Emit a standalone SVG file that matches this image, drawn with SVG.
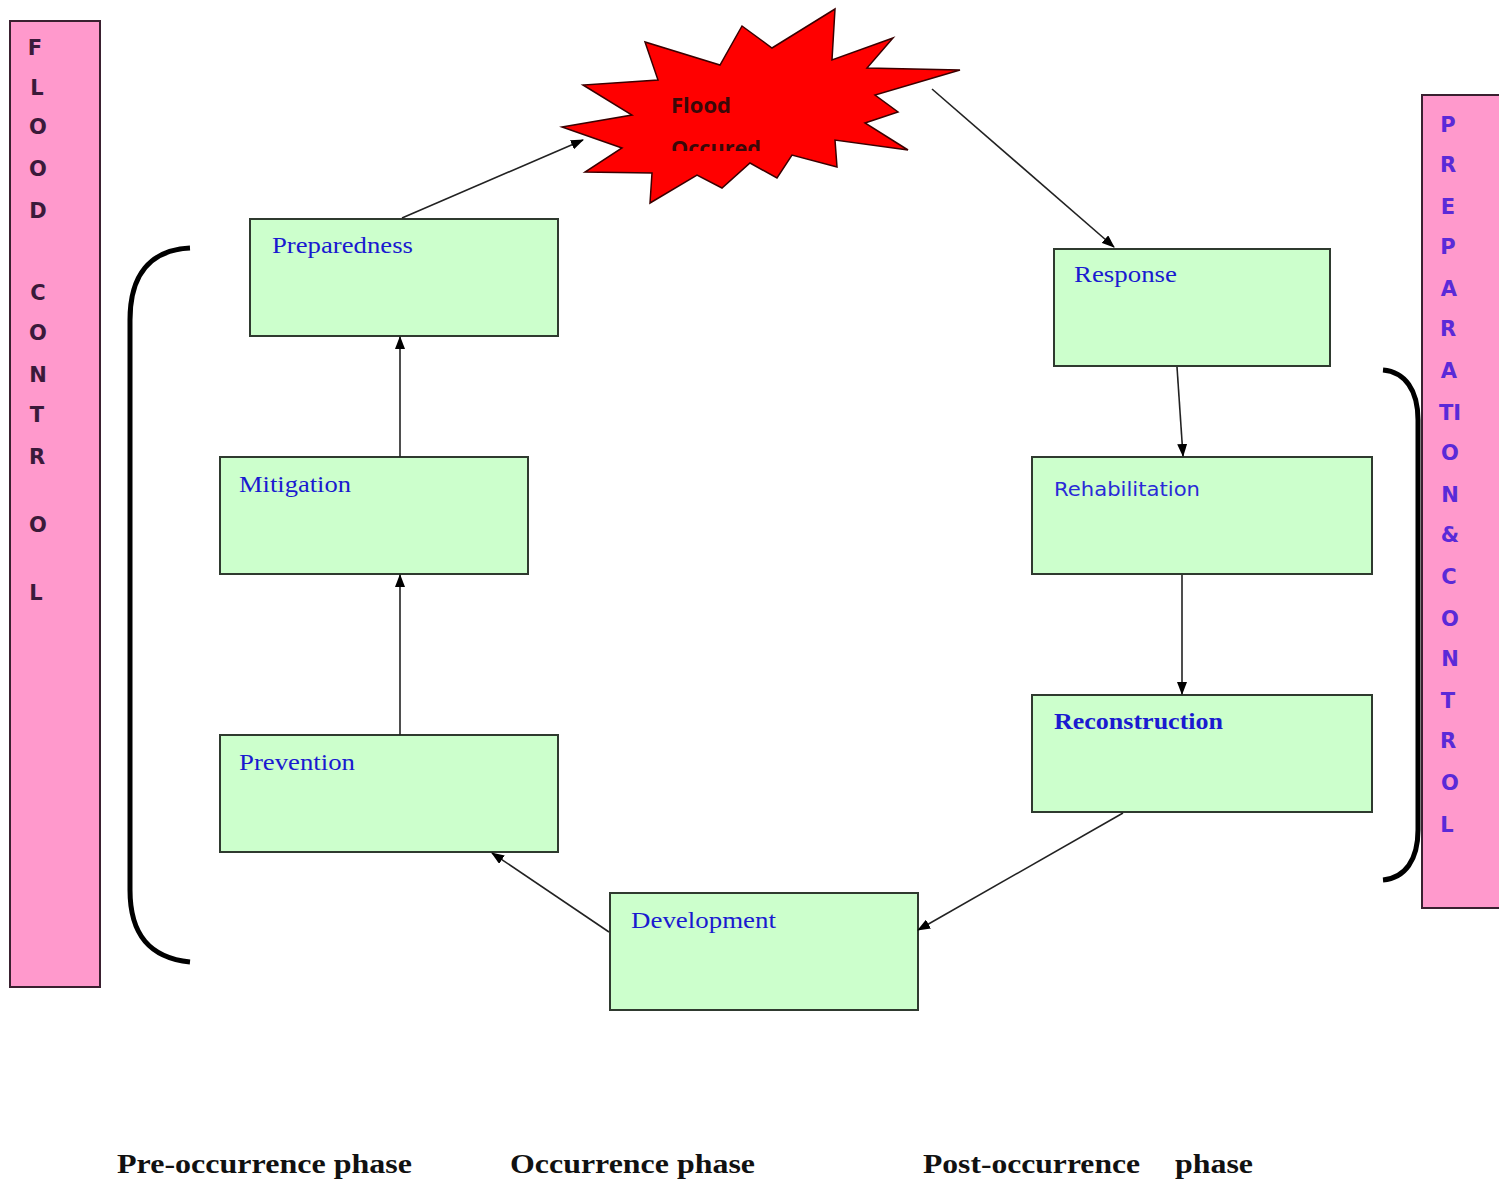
<svg xmlns="http://www.w3.org/2000/svg" width="1499" height="1182" viewBox="0 0 1499 1182">
<style>
.box{fill:#ccffcc;stroke:#2f3a2f;stroke-width:2}
.lbl{font-family:"Liberation Serif",serif;font-size:23px;fill:#1a1ad0}
.side{fill:#ff99cc;stroke:#3a2030;stroke-width:2}
.lc{font-family:"DejaVu Sans",sans-serif;font-size:21px;font-weight:bold;fill:#3a1a3a;text-anchor:middle}
.rc{font-family:"DejaVu Sans",sans-serif;font-size:21px;font-weight:bold;fill:#5a2ad8;text-anchor:middle}
.con{stroke:#222;stroke-width:1.6;fill:none;marker-end:url(#ah)}
.brk{stroke:#000;stroke-width:5;fill:none}
.ph{font-family:"Liberation Serif",serif;font-size:28px;font-weight:bold;fill:#111}
</style>
<defs>
<marker id="ah" viewBox="0 0 13 10" refX="12" refY="5" markerWidth="13" markerHeight="10" markerUnits="userSpaceOnUse" orient="auto">
<path d="M0,0 L13,5 L0,10 z" fill="#000"/>
</marker>
<clipPath id="fc"><rect x="600" y="80" width="250" height="71"/></clipPath>
</defs>
<rect width="1499" height="1182" fill="#fff"/>

<g id="flood-control">
<rect class="side" x="10" y="21" width="90" height="966"/>
<text class="lc" x="35" y="55">F</text>
<text class="lc" x="37" y="95">L</text>
<text class="lc" x="38" y="134">O</text>
<text class="lc" x="38" y="176">O</text>
<text class="lc" x="38" y="218">D</text>
<text class="lc" x="38" y="300">C</text>
<text class="lc" x="38" y="340">O</text>
<text class="lc" x="38" y="382">N</text>
<text class="lc" x="37" y="422">T</text>
<text class="lc" x="37" y="464">R</text>
<text class="lc" x="38" y="532">O</text>
<text class="lc" x="36" y="600">L</text>
</g>

<g id="preparation-control">
<rect class="side" x="1422" y="95" width="80" height="813"/>
<text class="rc" x="1448" y="132">P</text>
<text class="rc" x="1448" y="172">R</text>
<text class="rc" x="1448" y="214">E</text>
<text class="rc" x="1448" y="254">P</text>
<text class="rc" x="1449" y="296">A</text>
<text class="rc" x="1448" y="336">R</text>
<text class="rc" x="1449" y="378">A</text>
<text class="rc" x="1450" y="420">TI</text>
<text class="rc" x="1450" y="460">O</text>
<text class="rc" x="1450" y="502">N</text>
<text class="rc" x="1450" y="542">&amp;</text>
<text class="rc" x="1449" y="584">C</text>
<text class="rc" x="1450" y="626">O</text>
<text class="rc" x="1450" y="666">N</text>
<text class="rc" x="1448" y="708">T</text>
<text class="rc" x="1448" y="748">R</text>
<text class="rc" x="1450" y="790">O</text>
<text class="rc" x="1447" y="832">L</text>
</g>

<g id="brackets">
<path class="brk" d="M190,248 C150,250 130,275 130,320 L130,890 C130,935 150,958 190,962"/>
<path class="brk" d="M1383,370 C1405,372 1418,390 1418,420 L1418,830 C1418,860 1405,878 1383,880"/>
</g>

<g id="flood-occured">
<polygon fill="#ff0000" stroke="#3a0000" stroke-width="1.5" points="562,127 632,115 583,85 658,80 645,42 720,65 742,26 772,48 835,9 832,60 893,38 867,68 960,70 875,95 898,112 865,123 908,150 835,140 837,167 792,155 777,178 750,163 722,188 697,175 650,203 652,173 585,172 622,148"/>
<g clip-path="url(#fc)" font-family="'Open Sans','DejaVu Sans',sans-serif" font-size="21" font-weight="bold" fill="#3a0808">
<text x="671" y="113" textLength="60" lengthAdjust="spacingAndGlyphs">Flood</text>
<text x="671" y="156" textLength="90" lengthAdjust="spacingAndGlyphs">Occured</text>
</g>
</g>

<g id="preparedness"><rect class="box" x="250" y="219" width="308" height="117"/><text class="lbl" x="272" y="253" textLength="141" lengthAdjust="spacingAndGlyphs">Preparedness</text></g>
<g id="mitigation"><rect class="box" x="220" y="457" width="308" height="117"/><text class="lbl" x="239" y="492" textLength="112" lengthAdjust="spacingAndGlyphs">Mitigation</text></g>
<g id="prevention"><rect class="box" x="220" y="735" width="338" height="117"/><text class="lbl" x="239" y="770" textLength="116" lengthAdjust="spacingAndGlyphs">Prevention</text></g>
<g id="development"><rect class="box" x="610" y="893" width="308" height="117"/><text class="lbl" x="631" y="928" textLength="145" lengthAdjust="spacingAndGlyphs">Development</text></g>
<g id="response"><rect class="box" x="1054" y="249" width="276" height="117"/><text class="lbl" x="1074" y="282" textLength="103" lengthAdjust="spacingAndGlyphs">Response</text></g>
<g id="rehabilitation"><rect class="box" x="1032" y="457" width="340" height="117"/><text x="1054" y="496" font-family="'DejaVu Sans',sans-serif" font-size="20" fill="#2a2ad8" textLength="146" lengthAdjust="spacingAndGlyphs">Rehabilitation</text></g>
<g id="reconstruction"><rect class="box" x="1032" y="695" width="340" height="117"/><text class="lbl" x="1054" y="729" font-weight="bold" textLength="169" lengthAdjust="spacingAndGlyphs">Reconstruction</text></g>

<g id="connectors">
<line class="con" x1="402" y1="218" x2="583" y2="140"/>
<line class="con" x1="932" y1="89" x2="1114" y2="247"/>
<line class="con" x1="1177" y1="367" x2="1183" y2="456"/>
<line class="con" x1="1182" y1="575" x2="1182" y2="694"/>
<line class="con" x1="1123" y1="813" x2="918" y2="930"/>
<line class="con" x1="609" y1="932" x2="492" y2="853"/>
<line class="con" x1="400" y1="735" x2="400" y2="575"/>
<line class="con" x1="400" y1="457" x2="400" y2="337"/>
</g>

<g id="phases">
<text class="ph" x="117" y="1173" textLength="295" lengthAdjust="spacingAndGlyphs">Pre-occurrence phase</text>
<text class="ph" x="510" y="1173" textLength="245" lengthAdjust="spacingAndGlyphs">Occurrence phase</text>
<text class="ph" x="923" y="1173" textLength="217" lengthAdjust="spacingAndGlyphs">Post-occurrence</text>
<text class="ph" x="1175" y="1173" textLength="78" lengthAdjust="spacingAndGlyphs">phase</text>
</g>
</svg>
